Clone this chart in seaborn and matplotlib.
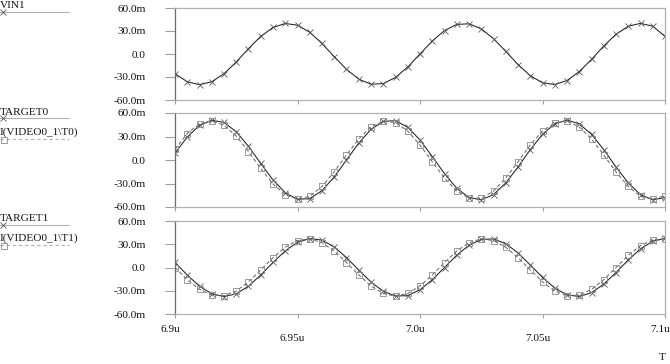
import matplotlib
matplotlib.use("Agg")
import matplotlib.pyplot as plt
import matplotlib.transforms as mtransforms
from matplotlib.lines import Line2D
import seaborn as sns
import pandas as pd

# ---- data (time in us, values in m) ----
t_us = [6.900, 6.905, 6.910, 6.915, 6.920, 6.925, 6.930, 6.935, 6.940, 6.945,
        6.950, 6.955, 6.960, 6.965, 6.970, 6.975, 6.980, 6.985, 6.990, 6.995,
        7.000, 7.005, 7.010, 7.015, 7.020, 7.025, 7.030, 7.035, 7.040, 7.045,
        7.050, 7.055, 7.060, 7.065, 7.070, 7.075, 7.080, 7.085, 7.090, 7.095, 7.100]

vin1 = [-25.7, -36.2, -40.0, -36.2, -25.7, -10.4, 7.0, 23.0, 34.6, 39.8,
        37.6, 28.3, 13.7, -3.5, -20.0, -32.8, -39.4, -38.6, -30.6, -16.9,
        0.0, 16.9, 30.6, 38.6, 39.4, 32.8, 20.0, 3.5, -13.7, -28.3,
        -37.6, -39.8, -34.6, -23.0, -7.0, 10.4, 25.7, 36.2, 40.0, 36.2, 23.0]

target0 = [8.9, 29.3, 44.2, 50.8, 47.9, 36.1, 17.4, -4.4, -25.5, -41.8,
           -50.2, -49.3, -39.1, -21.6, 0.0, 21.6, 39.1, 49.3, 50.2, 41.8,
           25.5, 4.4, -17.4, -36.1, -47.9, -50.8, -44.2, -29.3, -8.9, 13.2,
           32.8, 46.2, 51.0, 46.2, 32.8, 13.2, -8.9, -29.3, -44.2, -50.8, -47.9]

i_t0 = [13.5, 33.8, 46.2, 50.0, 44.4, 30.5, 10.8, -10.8, -30.5, -44.4,
        -50.0, -46.2, -33.8, -15.1, 6.5, 26.9, 42.2, 49.6, 47.7, 36.9,
        19.1, -2.2, -23.1, -39.7, -48.8, -48.8, -39.7, -23.1, -2.2, 19.1,
        36.9, 47.7, 49.6, 42.2, 26.9, 6.5, -15.1, -33.8, -46.2, -50.0, -45.5]

target1 = [6.5, -9.7, -24.1, -34.0, -37.5, -34.0, -24.1, -9.7, 6.5, 21.5,
           32.5, 37.4, 35.3, 26.5, 12.8, -3.3, -18.8, -30.7, -36.9, -36.2,
           -28.7, -15.9, 0.0, 15.9, 28.7, 36.2, 36.9, 30.7, 18.8, 3.3,
           -12.8, -26.5, -35.3, -37.4, -32.5, -21.5, -6.5, 9.7, 24.1, 34.0, 37.5]

i_t1 = [0.0, -15.7, -28.3, -35.7, -36.4, -30.3, -18.5, -3.2, 12.7, 26.2,
        34.8, 36.9, 32.0, 21.2, 6.4, -9.6, -23.8, -33.5, -37.0, -33.5,
        -23.8, -9.6, 6.4, 21.2, 32.0, 36.9, 34.8, 26.2, 12.7, -3.2,
        -18.5, -30.3, -36.4, -35.7, -28.3, -15.7, 0.0, 15.6, 28.3, 35.7, 37.0]

y_ticks = [-60, -30, 0, 30, 60]
y_labels = ["-60.0m", "-30.0m", "0.0", "30.0m", "60.0m"]
x_ticks = [6.9, 6.95, 7.0, 7.05, 7.1]
x_labels = ["6.9u", "\n6.95u", "7.0u", "\n7.05u", "7.1u"]

panels = [
    [("VIN1", vin1, "solid")],
    [("TARGET0", target0, "solid"), ("I(VIDEO0_1\\T0)", i_t0, "dashed")],
    [("TARGET1", target1, "solid"), ("I(VIDEO0_1\\T1)", i_t1, "dashed")],
]

# ---- style ----
sns.set_theme(style="white")
plt.rcParams["font.family"] = ["Liberation Serif", "DejaVu Serif"]
FS = 8.1

W, H = 670, 364
fig = plt.figure(figsize=(W / 100, H / 100), dpi=100)

rects = [(8, 100), (113, 207), (221, 314)]
left_px, right_px = 175, 665

solid_kw = dict(color="#222222", linewidth=0.75, marker="x", markersize=5,
                markeredgewidth=0.6, markeredgecolor="#5a5a5a")
dash_kw = dict(color="#6a6a6a", linewidth=0.75, linestyle=(0, (3.5, 2.5)),
               marker="s", markersize=4.5, markerfacecolor="none",
               markeredgewidth=0.6, markeredgecolor="#8a8a8a")

legend_rows = [
    [(8, 12)],
    [(115, 118), (135, 139)],
    [(221, 225), (241, 245)],
]

for i, (series, (top, bot)) in enumerate(zip(panels, rects)):
    ax = fig.add_axes([left_px / W, 1 - bot / H, (right_px - left_px) / W, (bot - top) / H])
    for name, vals, style in series:
        df = pd.DataFrame({"t": t_us, "v": vals})
        kw = solid_kw if style == "solid" else dash_kw
        sns.lineplot(data=df, x="t", y="v", ax=ax, legend=False, **kw)
    ax.set_xlim(6.9, 7.1)
    ax.set_ylim(-60, 60)
    ax.set_xlabel("")
    ax.set_ylabel("")
    ax.tick_params(axis="y", direction="out", length=7, width=0.8, color="#a0a0a0", pad=14, left=True)
    ax.tick_params(axis="x", direction="out", length=3, width=0.8, color="#a0a0a0", pad=5, bottom=True)
    ax.set_yticks(y_ticks)
    ax.set_yticklabels(y_labels, fontsize=FS, color="#111111")
    ax.set_xticks(x_ticks)
    if i == 2:
        ax.set_xticklabels(x_labels, fontsize=FS, color="#111111", linespacing=1.0)
        off = mtransforms.ScaledTranslation(-5 / 100, 0, fig.dpi_scale_trans)
        for lab in ax.get_xticklabels():
            lab.set_transform(lab.get_transform() + off)
    else:
        ax.set_xticklabels([])
    for s in ["top", "bottom", "right"]:
        ax.spines[s].set_color("#b0b0b0")
        ax.spines[s].set_linewidth(0.9)
    ax.spines["left"].set_color("#6a6a6a")
    ax.spines["left"].set_linewidth(0.9)
    for sp in ax.spines.values():
        sp.set_visible(True)
    ax.patch.set_facecolor("white")

    # left legend entries
    for (name, vals, style), (ty, ly) in zip(series, legend_rows[i]):
        fig.text(0 / W, 1 - ty / H, name, fontsize=FS, ha="left", va="baseline", color="#111111")
        fig.add_artist(Line2D([0, 69 / W], [1 - ly / H, 1 - ly / H], transform=fig.transFigure,
                              color="#b0b0b0", linewidth=0.8,
                              linestyle="-" if style == "solid" else (0, (3, 2.5))))
        if style == "solid":
            fig.add_artist(Line2D([3 / W], [1 - ly / H], transform=fig.transFigure, marker="x",
                                  markersize=4.5, markeredgewidth=0.6, color="#555555", linestyle="none"))
        else:
            fig.add_artist(Line2D([4 / W], [1 - (ly + 1) / H], transform=fig.transFigure, marker="s",
                                  markersize=4.5, markeredgewidth=0.6, markerfacecolor="none",
                                  markeredgecolor="#8a8a8a", linestyle="none"))

fig.text(662 / W, 1 - 357 / H, "T", fontsize=FS, ha="center", va="center", color="#111111")

fig.savefig("out.png", dpi=100, facecolor="white")
